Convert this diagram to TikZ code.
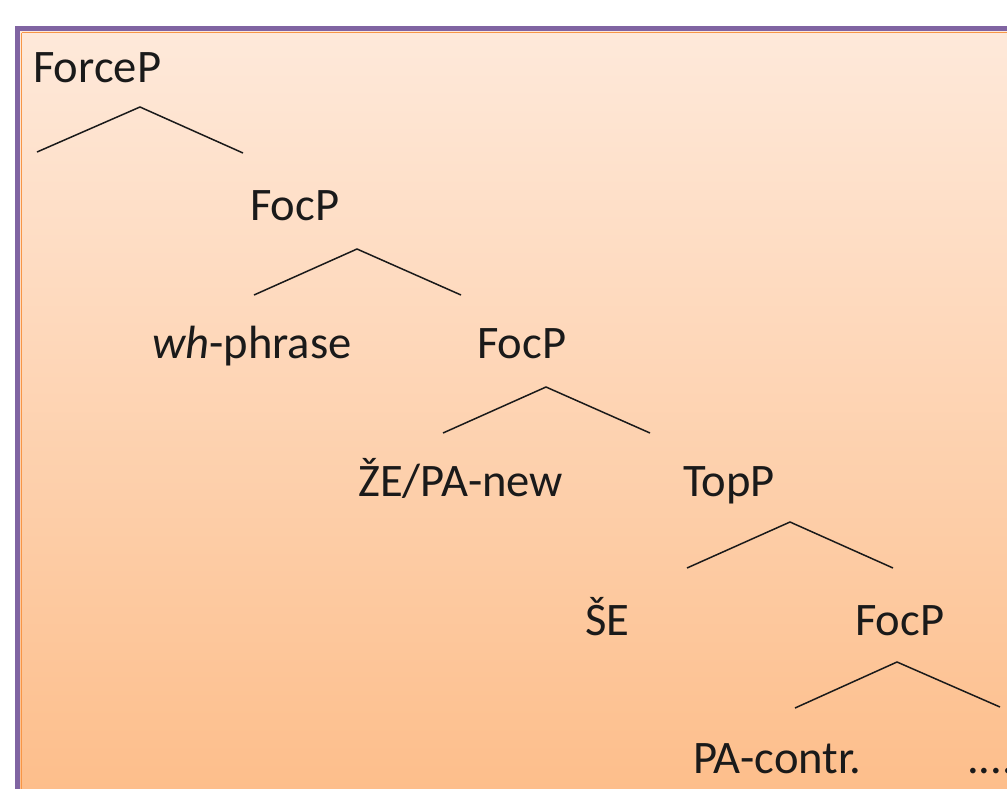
\documentclass[tikz,border=0pt]{standalone}
\usepackage{fontspec}
\setmainfont{Carlito}
\definecolor{frame}{HTML}{8064A2}
\definecolor{rim}{HTML}{F79646}
\definecolor{shadetop}{HTML}{FEE9DA}
\definecolor{shadebot}{HTML}{FDBE8B}
\definecolor{ink}{HTML}{1A1A1A}
\tikzset{
  lbl/.style={anchor=base west, inner sep=0pt, text=ink,
              font=\fontsize{46.6}{56}\selectfont},
  branch/.style={draw=ink, line width=1.5pt, line join=miter},
}
\begin{document}
\begin{tikzpicture}[x=1pt,y=-1pt]
\useasboundingbox (0,0) rectangle (1007,788);
% slide panel with gradient fill, cut off on right and bottom
\shade[top color=shadetop, bottom color=shadebot] (20,31) rectangle (1010,792);
\draw[rim, line width=1.5pt] (21.5,32.5) -- (1010,32.5);
\draw[rim, line width=1.5pt] (21.5,32.5) -- (21.5,792);
\draw[frame, line width=5pt] (17.5,792) -- (17.5,28.5) -- (1010,28.5);

% labels
\node[lbl] (force) at (33,82) {ForceP};
\node[lbl] (foc1) at (250,220) {FocP};
\node[lbl] (wh) at (152,358) {\textit{wh}-phrase};
\node[lbl] (foc2) at (477,358) {FocP};
\node[lbl] (ze) at (358,496) {ŽE/PA-new};
\node[lbl] (top) at (683,496) {TopP};
\node[lbl] (se) at (585,635) {ŠE};
\node[lbl] (foc3) at (855,635) {FocP};
\node[lbl] (pa) at (693,773) {PA-contr.};
\node[lbl] (dots) at (967,773) {....};

% branch points
\coordinate (a1) at (140,107); \coordinate (l1) at (37,152);  \coordinate (r1) at (243,153);
\coordinate (a2) at (357,249); \coordinate (l2) at (254,295); \coordinate (r2) at (461,295);
\coordinate (a3) at (546,387); \coordinate (l3) at (443,433); \coordinate (r3) at (650,433);
\coordinate (a4) at (790,522); \coordinate (l4) at (687,568); \coordinate (r4) at (893,568);
\coordinate (a5) at (897,662); \coordinate (l5) at (795,708); \coordinate (r5) at (1000,707);

\draw[branch] (l1) -- (a1) -- (r1);
\draw[branch] (l2) -- (a2) -- (r2);
\draw[branch] (l3) -- (a3) -- (r3);
\draw[branch] (l4) -- (a4) -- (r4);
\draw[branch] (l5) -- (a5) -- (r5);
\end{tikzpicture}
\end{document}
